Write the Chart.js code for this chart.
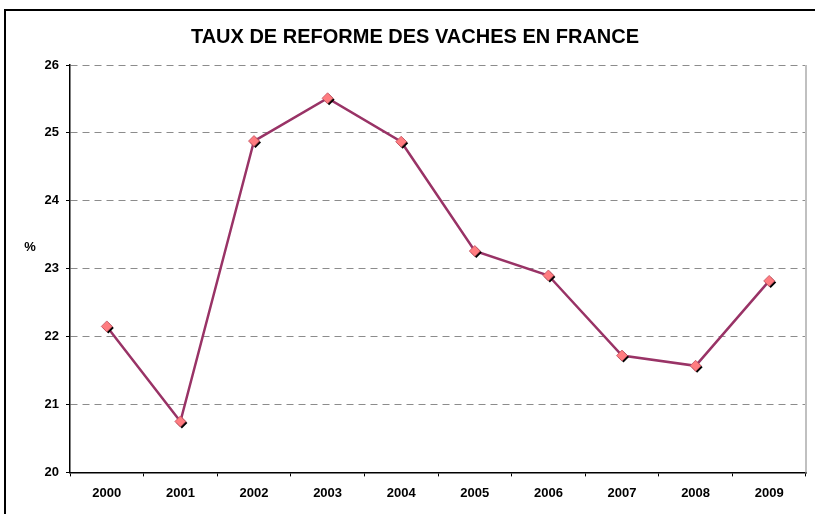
<!DOCTYPE html>
<html>
<head>
<meta charset="utf-8">
<script src="https://cdn.jsdelivr.net/npm/chart.js@4"></script>
<style>
    html, body { margin: 0; padding: 0; background: #fff; }
    #wrap { position: relative; width: 815px; height: 514px; }
    #frame { position: absolute; left: 4px; top: 9px; width: 900px; height: 600px;
             border-left: 2px solid #000; border-top: 2px solid #000; }
    canvas { position: absolute; left: 0; top: 0; }
</style>
</head>
<body>
<div id="wrap">
    <div id="frame"></div>
    <canvas id="chart" width="815" height="514"></canvas>
</div>
<script>
// --- data ---
const years = ['2000', '2001', '2002', '2003', '2004', '2005', '2006', '2007', '2008', '2009'];
const tauxReforme = [22.15, 20.75, 24.88, 25.51, 24.87, 23.26, 22.90, 21.72, 21.57, 22.82];
const yTicks = [20, 21, 22, 23, 24, 25, 26];
const chartTitle = 'TAUX DE REFORME DES VACHES EN FRANCE';

const lineColor = '#993366';
const markerFill = '#ff7c80';
const fontFamily = '"Liberation Sans", Arial, sans-serif';

// diamond markers with a small black shadow, like the old Excel look
const markerPlugin = {
    id: 'markers',
    afterDatasetsDraw(chart) {
        const ctx = chart.ctx;
        const meta = chart.getDatasetMeta(0);
        const r = 5.5;
        const diamond = (x, y) => {
            ctx.beginPath();
            ctx.moveTo(x, y - r);
            ctx.lineTo(x + r, y);
            ctx.lineTo(x, y + r);
            ctx.lineTo(x - r, y);
            ctx.closePath();
        };
        ctx.save();
        meta.data.forEach(pt => {
            diamond(pt.x + 1.5, pt.y + 1.5);
            ctx.fillStyle = '#000';
            ctx.fill();
            diamond(pt.x, pt.y);
            ctx.fillStyle = markerFill;
            ctx.fill();
            ctx.lineWidth = 0.8;
            ctx.strokeStyle = '#c05060';
            ctx.stroke();
        });
        ctx.restore();
    }
};

// title, right border of the plot area and the "%" unit label
const extrasPlugin = {
    id: 'extras',
    afterDraw(chart) {
        const { ctx, chartArea } = chart;
        ctx.save();
        ctx.strokeStyle = '#c0c0c0';
        ctx.lineWidth = 2;
        ctx.beginPath();
        ctx.moveTo(chartArea.right, chartArea.top);
        ctx.lineTo(chartArea.right, chartArea.bottom);
        ctx.stroke();
        ctx.fillStyle = '#000';
        ctx.textAlign = 'center';
        ctx.textBaseline = 'middle';
        ctx.font = 'bold 20px ' + fontFamily;
        ctx.fillText(chartTitle, 415, 37);
        ctx.font = 'bold 13px ' + fontFamily;
        ctx.fillText('%', 30, 247);
        ctx.restore();
    }
};

new Chart(document.getElementById('chart'), {
    type: 'line',
    data: {
        labels: years,
        datasets: [{
            data: tauxReforme,
            borderColor: lineColor,
            borderWidth: 2.5,
            pointRadius: 0,
            tension: 0,
            fill: false
        }]
    },
    options: {
        responsive: false,
        animation: false,
        layout: { padding: { left: 0, right: 9, top: 65, bottom: 4 } },
        plugins: {
            legend: { display: false },
            tooltip: { enabled: false },
            title: { display: false }
        },
        scales: {
            x: {
                offset: true,
                grid: { offset: true, drawOnChartArea: false, drawTicks: true, tickLength: 4, color: '#000' },
                border: { color: '#000', width: 1.5 },
                ticks: { color: '#000', padding: 9, font: { family: fontFamily, size: 13, weight: 'bold' } }
            },
            y: {
                min: 20,
                max: 26,
                afterBuildTicks: axis => { axis.ticks = yTicks.map(v => ({ value: v })); },
                afterFit: axis => { axis.width = 70; },
                grid: {
                    color: ctx => (ctx.tick && ctx.tick.value === 20) ? 'rgba(0,0,0,0)' : '#8c8c8c',
                    tickColor: '#000',
                    tickLength: 4,
                    tickBorderDash: [],
                    lineWidth: 1
                },
                border: { color: '#000', width: 1.5, dash: [7, 5] },
                ticks: { color: '#000', padding: 7, font: { family: fontFamily, size: 13, weight: 'bold' } }
            }
        }
    },
    plugins: [markerPlugin, extrasPlugin]
});
</script>
</body>
</html>
